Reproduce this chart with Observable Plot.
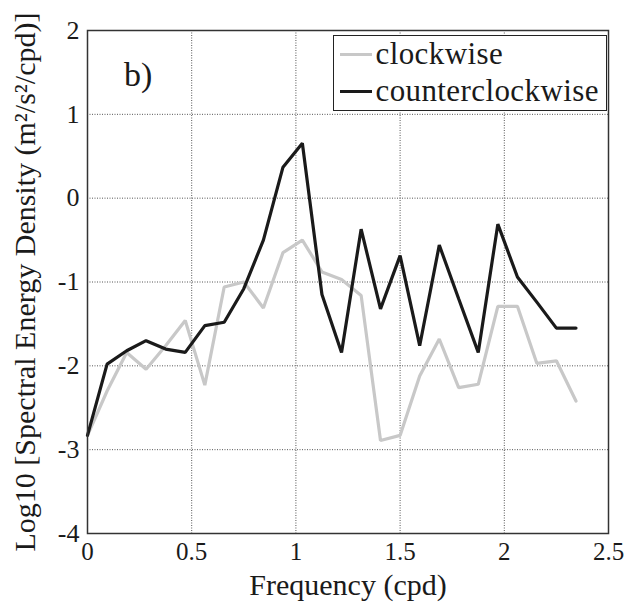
<!DOCTYPE html>
<html>
<head>
<meta charset="utf-8">
<script src="https://cdn.jsdelivr.net/npm/d3@7"></script>
<script src="https://cdn.jsdelivr.net/npm/@observablehq/plot@0.6"></script>
<style>
  html, body { margin: 0; padding: 0; background: #fff; }
  #wrap { position: relative; width: 631px; height: 609px; font-family: "Liberation Serif", "Times New Roman", serif; }
  #wrap svg, #wrap svg text { font-family: "Liberation Serif", "Times New Roman", serif !important; }
  #legend { position: absolute; left: 333px; top: 35px; width: 274px; height: 76px; border: 1.5px solid #222; background: #fff; box-sizing: border-box; }
  .row { position: absolute; left: 5.5px; height: 30px; display: flex; align-items: center; font-size: 31px; letter-spacing: 0.4px; color: #1a1a1a; white-space: nowrap; }
  .row span.sw { display: inline-block; width: 32px; height: 3px; margin-right: 4px; }
  #panel { position: absolute; left: 124px; top: 56px; font-size: 34px; color: #1a1a1a; }
</style>
</head>
<body>
<div id="wrap"></div>
<script>
const freq = [0, 0.094, 0.188, 0.281, 0.375, 0.469, 0.563, 0.656, 0.75, 0.844, 0.938, 1.031, 1.125, 1.219, 1.313, 1.406, 1.5, 1.594, 1.688, 1.781, 1.875, 1.969, 2.063, 2.156, 2.25, 2.344];
const clockwise = [-2.83, -2.3, -1.84, -2.04, -1.76, -1.46, -2.23, -1.06, -1.0, -1.31, -0.65, -0.5, -0.88, -0.97, -1.16, -2.89, -2.83, -2.12, -1.68, -2.26, -2.22, -1.29, -1.29, -1.97, -1.94, -2.42];
const counterclockwise = [-2.83, -1.98, -1.82, -1.70, -1.80, -1.84, -1.52, -1.48, -1.08, -0.50, 0.37, 0.655, -1.15, -1.84, -0.37, -1.32, -0.685, -1.76, -0.56, -1.2, -1.84, -0.31, -0.94, -1.24, -1.55, -1.55];
const xTicks = [0, 0.5, 1, 1.5, 2, 2.5];
const yTicks = [-4, -3, -2, -1, 0, 1, 2];
const seriesNames = ["clockwise", "counterclockwise"];
const seriesColors = ["#c8c8c8", "#1a1a1a"];

const rows = [];
freq.forEach((f, i) => {
  rows.push({f, v: clockwise[i], s: seriesNames[0]});
});
freq.forEach((f, i) => {
  rows.push({f, v: counterclockwise[i], s: seriesNames[1]});
});

const chart = Plot.plot({
  width: 631,
  height: 609,
  marginLeft: 87,
  marginRight: 23,
  marginTop: 30,
  marginBottom: 76,
  style: {fontFamily: "Liberation Serif, serif", fontSize: "26px", color: "#1a1a1a", background: "#fff"},
  x: {domain: [0, 2.5], ticks: xTicks},
  y: {domain: [-4, 2], ticks: yTicks},
  color: {domain: seriesNames, range: seriesColors},
  marks: [
    Plot.gridX(xTicks, {stroke: "#555", strokeOpacity: 1, strokeDasharray: "1,1.5", strokeWidth: 1}),
    Plot.gridY(yTicks, {stroke: "#555", strokeOpacity: 1, strokeDasharray: "1,1.5", strokeWidth: 1}),
    Plot.line(rows, {x: "f", y: "v", z: "s", stroke: "s", strokeWidth: 3.2, strokeLinejoin: "miter"}),
    Plot.frame({stroke: "#333", strokeWidth: 1.5}),
    Plot.axisX(xTicks, {tickSize: 0, tickPadding: 9, fontSize: 25, tickFormat: d => String(d), label: "Frequency (cpd)", labelAnchor: "center", labelArrow: "none", labelOffset: 61}),
    Plot.axisY(yTicks, {tickSize: 0, tickPadding: 8, fontSize: 26, tickFormat: d => d < 0 ? "-" + Math.abs(d) : String(d), label: "Log10 [Spectral Energy Density (m²/s²/cpd)]", labelAnchor: "center", labelArrow: "none", labelOffset: 74})
  ]
});

const wrap = document.getElementById("wrap");
wrap.appendChild(chart);
d3.select(chart).selectAll("[aria-label='x-axis label'] text").style("font-size", "30px");
d3.select(chart).selectAll("[aria-label='y-axis label'] text").style("font-size", "30px");

const legend = document.createElement("div");
legend.id = "legend";
seriesNames.forEach((n, i) => {
  const r = document.createElement("div");
  r.className = "row";
  r.style.top = (3.3 + i * 37) + "px";
  r.innerHTML = `<span class="sw" style="background:${seriesColors[i]}"></span>${n}`;
  legend.appendChild(r);
});
wrap.appendChild(legend);

const panel = document.createElement("div");
panel.id = "panel";
panel.textContent = "b)";
wrap.appendChild(panel);
</script>
</body>
</html>
